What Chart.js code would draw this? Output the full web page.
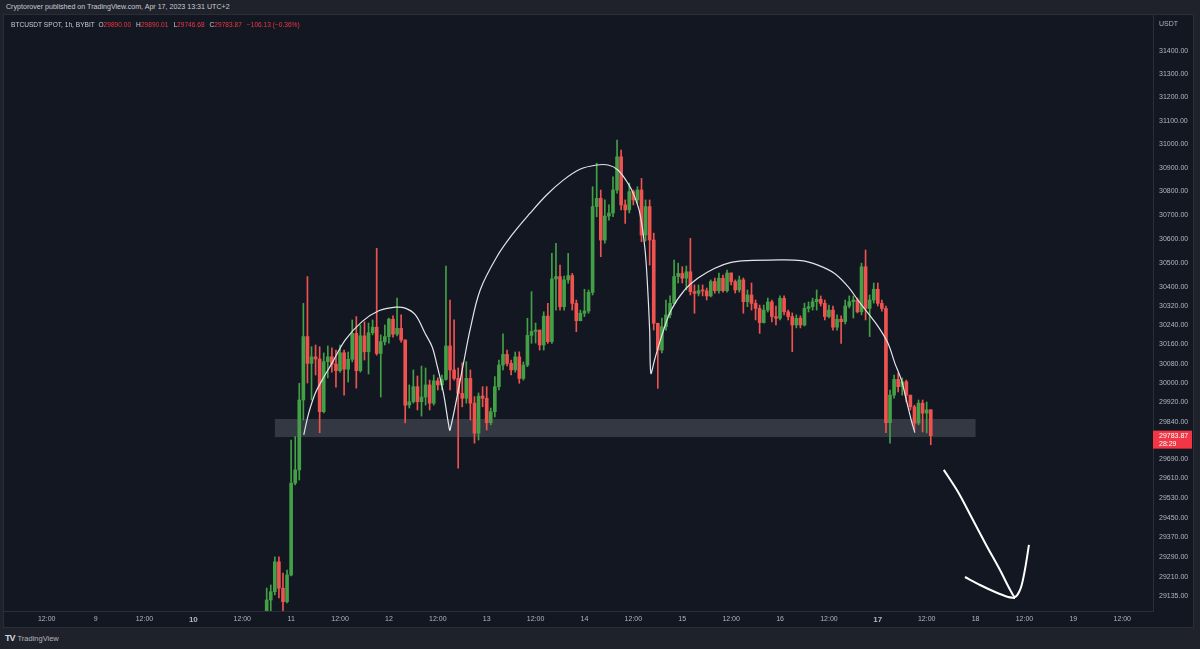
<!DOCTYPE html>
<html>
<head>
<meta charset="utf-8">
<title>BTCUSDT 1h</title>
<script src="https://cdn.jsdelivr.net/npm/chart.js@4.4.0/dist/chart.umd.min.js"></script>
<style>
  html, body { margin: 0; padding: 0; }
  body { width: 1200px; height: 649px; background: #1f222b; position: relative; overflow: hidden;
         font-family: "Liberation Sans", Arial, sans-serif; }
  #hdr { position: absolute; left: 6px; top: 3px; font-size: 7.1px; color: #c9ccd4; white-space: nowrap; }
  #panel { position: absolute; left: 4px; top: 15px; width: 1189px; height: 612px; background: #131722;
           outline: 1px solid #2a2e39; }
  #c { position: absolute; left: 0; top: 0; }
  #legend { position: absolute; left: 7px; top: 6px; font-size: 6.6px; color: #c9ccd4; white-space: nowrap; }
  #legend .v { color: #f23645; margin-right: 5px; }
  #unit { position: absolute; left: 1155px; top: 5px; font-size: 7px; color: #b2b5be; }
  #foot { position: absolute; left: 5px; top: 633px; font-size: 7.5px; color: #b2b5be; white-space: nowrap; }
  #foot b { font-size: 9px; color: #d1d4dc; margin-right: 3px; letter-spacing: -1px; }
</style>
</head>
<body>
<div id="hdr">Cryptorover published on TradingView.com, Apr 17, 2023 13:31 UTC+2</div>
<div id="panel">
  <canvas id="c" width="1189" height="612"></canvas>
  <div id="legend">BTCUSDT SPOT, 1h, BYBIT&nbsp;&nbsp;<span>O</span><span class="v">29890.00</span><span>H</span><span class="v">29890.01</span><span>L</span><span class="v">29746.68</span><span>C</span><span class="v">29783.87</span><span class="v">&minus;106.13 (&minus;0.36%)</span></div>
  <div id="unit">USDT</div>
</div>
<div id="foot"><b>TV</b>TradingView</div>

<script>
// hours counted from Apr 9 00:00, first visible candle is Apr 10 18:00
var firstHour = 42;
var firstOpen = 29050;

var closes = [
  29119, 29152, 29272, 29166, 29112, 29219, 29590, 29644, 29930, 30192,
  30081, 30108, 30099, 29882, 30088, 30108, 30078, 30051, 30125, 30057,
  30098, 30205, 30051, 30195, 30129, 30208, 30231, 30122, 30171, 30192,
  30264, 30202, 30226, 30178, 29909, 29923, 29985, 29923, 29942, 29992,
  29917, 30009, 29992, 30015, 30153, 30054, 30019, 29957, 29937, 30019,
  29917, 29794, 29946, 29937, 29837, 29882, 29985, 30074, 30118, 30081,
  30054, 30108, 30019, 30074, 30197, 30213, 30219, 30157, 30277, 30171,
  30432, 30442, 30316, 30428, 30446, 30330, 30258, 30289, 30298, 30376,
  30736, 30771, 30595, 30696, 30709, 30806, 30947, 30743, 30722, 30799,
  30764, 30806, 30616, 30736, 30595, 30247, 30136, 30233, 30282, 30330,
  30442, 30455, 30435, 30462, 30379, 30372, 30383, 30382, 30361, 30421,
  30383, 30435, 30383, 30457, 30421, 30386, 30428, 30337, 30365, 30330,
  30309, 30250, 30302, 30336, 30275, 30268, 30351, 30295, 30275, 30240,
  30268, 30240, 30309, 30316, 30337, 30347, 30330, 30275, 30302, 30231,
  30264, 30254, 30319, 30337, 30344, 30295, 30483, 30309, 30344, 30389,
  30330, 30309, 29837, 29950, 30015, 29985, 30005, 29950, 29902, 29835,
  29917, 29876, 29890, 29783.87
];

var highs = [
  29167, 29179, 29292, 29292, 29227, 29239, 29766, 29780, 29999, 30330,
  30442, 30150, 30157, 30150, 30124, 30153, 30145, 30136, 30157, 30136,
  30128, 30261, 30275, 30240, 30253, 30248, 30261, 30560, 30199, 30240,
  30269, 30278, 30352, 30282, 30178, 29992, 30054, 30029, 30070, 30062,
  30012, 30033, 30021, 30033, 30486, 30344, 30261, 30062, 30083, 30088,
  30054, 29944, 29959, 29985, 29985, 29897, 30026, 30095, 30203, 30136,
  30095, 30128, 30129, 30087, 30268, 30379, 30248, 30219, 30295, 30330,
  30539, 30581, 30490, 30444, 30539, 30455, 30344, 30302, 30389, 30386,
  30820, 30920, 30806, 30764, 30743, 30862, 31018, 30976, 30764, 30835,
  30806, 30820, 30855, 30764, 30764, 30624, 30248, 30269, 30344, 30361,
  30511, 30498, 30483, 30486, 30602, 30407, 30407, 30407, 30394, 30428,
  30436, 30457, 30448, 30469, 30457, 30428, 30444, 30436, 30386, 30415,
  30344, 30323, 30323, 30352, 30344, 30319, 30361, 30361, 30302, 30290,
  30282, 30278, 30331, 30336, 30352, 30386, 30361, 30344, 30323, 30319,
  30282, 30278, 30344, 30361, 30361, 30352, 30498, 30553, 30365, 30415,
  30415, 30344, 30319, 29971, 30033, 30041, 30021, 30012, 29938, 29909,
  29930, 29930, 29922, 29890.01
];

var lows = [
  29040, 29071, 29139, 29127, 29075, 29107, 29215, 29583, 29603, 29848,
  30000, 29930, 30033, 29796, 29877, 30021, 30045, 29983, 30045, 29950,
  30004, 30087, 29979, 30045, 30095, 30037, 30199, 30115, 29942, 30157,
  30165, 30190, 30195, 30169, 29836, 29897, 29917, 29889, 29864, 29909,
  29889, 29909, 29971, 29971, 30012, 29971, 30012, 29651, 29902, 29917,
  29848, 29753, 29766, 29902, 29807, 29828, 29861, 29971, 30054, 30070,
  30033, 30045, 29999, 30012, 30067, 30164, 30165, 30136, 30136, 30164,
  30164, 30302, 30302, 30302, 30414, 30302, 30212, 30257, 30275, 30289,
  30365, 30693, 30525, 30582, 30679, 30693, 30793, 30722, 30665, 30709,
  30743, 30750, 30588, 30591, 30490, 30219, 29978, 30124, 30219, 30269,
  30331, 30415, 30415, 30386, 30365, 30289, 30361, 30361, 30344, 30357,
  30373, 30373, 30377, 30377, 30407, 30373, 30377, 30289, 30316, 30302,
  30261, 30205, 30248, 30294, 30253, 30240, 30261, 30282, 30261, 30129,
  30228, 30228, 30236, 30294, 30302, 30302, 30319, 30261, 30269, 30219,
  30219, 30164, 30244, 30311, 30269, 30290, 30282, 30261, 30192, 30331,
  30319, 30298, 29796, 29753, 29938, 29963, 29950, 29922, 29889, 29807,
  29828, 29799, 29795, 29746.68
];

// hand drawn head & shoulders curve
var curveHours = [51.1, 52.3, 53.9, 55.6, 58.0, 61.3, 65.4, 69.5, 73.6, 76.0, 78.5, 80.9, 82.6, 83.7, 85.4, 86.6, 87.0,
  90.3, 91.9, 94.4, 98.5, 102.5, 106.6, 110.7, 114.8, 118.9, 123.0, 125.8, 128.2, 130.7, 132.3, 133.6, 134.8, 135.4, 136.0, 136.3,
  137.2, 138.9, 141.3, 144.6, 147.8, 152.0, 156.0, 160.1, 165.5, 173.2, 177.3, 181.4, 184.7, 187.1, 189.6, 192.1, 194.5, 196.2,
  197.8, 199.0, 200.2, 201.1];
var curvePrices = [29787, 29875, 29957, 30012, 30081, 30178, 30254, 30299, 30314, 30310, 30282, 30205, 30150, 30081, 29957, 29834, 29807,
  30081, 30219, 30386, 30525, 30623, 30707, 30785, 30848, 30894, 30912, 30912, 30891, 30834, 30778, 30707, 30566, 30428, 30219, 30040,
  30095, 30192, 30302, 30386, 30435, 30477, 30501, 30509, 30511, 30509, 30490, 30455, 30400, 30344, 30289, 30233, 30164, 30081,
  30012, 29930, 29848, 29796];

// arrow strokes
var arrowHours = [208.2, 211.7, 215.1, 218.6, 222.0, 224.5, 225.7, 227.1, 228.1, 229.1];
var arrowPrices = [29644, 29554, 29449, 29340, 29239, 29159, 29131, 29167, 29239, 29340];
var headHours = [213.4, 217.1, 220.8, 224.0, 225.7];
var headPrices = [29211, 29179, 29151, 29131, 29127];

// support zone
var zoneHours = [44, 216];
var zonePrices = [29778, 29852];

var tickHours = [-12, 0, 12, 24, 36, 48, 60, 72, 84, 96, 108, 120, 132, 144, 156, 168, 180, 192, 204, 216, 228, 240, 252];
var tickLabels = ['12:00', '9', '12:00', '10', '12:00', '11', '12:00', '12', '12:00', '13', '12:00', '14', '12:00',
  '15', '12:00', '16', '12:00', '17', '12:00', '18', '12:00', '19', '12:00'];
var boldLabels = ['10', '17'];
var priceTicks = [31400, 31300, 31200, 31100, 31000, 30900, 30800, 30700, 30600, 30500, 30400, 30320, 30240,
  30160, 30080, 30000, 29920, 29840, 29690, 29610, 29530, 29450, 29370, 29290, 29210, 29135];

var lastPrice = 29783.87;
var countdown = '28:29';

var UP = '#43a047', DOWN = '#ef5350';

var candles = closes.map(function(c, i) {
  var o = i === 0 ? firstOpen : closes[i - 1];
  return { t: firstHour + i, o: o, c: c,
           h: Math.max(highs[i], o, c), l: Math.min(lows[i], o, c) };
});
var colors = candles.map(function(k) { return k.c >= k.o ? UP : DOWN; });

var zonePlugin = {
  id: 'zone',
  beforeDatasetsDraw: function(chart) {
    var x = chart.scales.x, y = chart.scales.y, ctx = chart.ctx;
    var x1 = x.getPixelForValue(zoneHours[0]), x2 = x.getPixelForValue(zoneHours[1]);
    var y1 = y.getPixelForValue(zonePrices[1]), y2 = y.getPixelForValue(zonePrices[0]);
    ctx.save();
    ctx.fillStyle = 'rgba(120,123,134,0.33)';
    ctx.fillRect(x1, y1, x2 - x1, y2 - y1);
    ctx.restore();
  }
};

var tagPlugin = {
  id: 'tag',
  afterDraw: function(chart) {
    var y = chart.scales.y, ctx = chart.ctx, area = chart.chartArea;
    var py = y.getPixelForValue(lastPrice);
    ctx.save();
    ctx.fillStyle = '#f23645';
    ctx.fillRect(area.right, py - 5, 39, 18);
    ctx.fillStyle = '#ffffff';
    ctx.font = '7px "Liberation Sans", Arial, sans-serif';
    ctx.textBaseline = 'middle';
    ctx.fillText(lastPrice.toFixed(2), area.right + 6, py + 0.5);
    ctx.fillText(countdown, area.right + 6, py + 8.5);
    ctx.restore();
  }
};

var ctx = document.getElementById('c').getContext('2d');
window.btcChart = new Chart(ctx, {
  type: 'bar',
  data: {
    datasets: [{
      label: 'curve',
      type: 'line',
      data: curveHours.map(function(h, i) { return { x: h, y: curvePrices[i] }; }),
      borderColor: '#e3e5ea',
      borderWidth: 1.2,
      pointRadius: 0,
      tension: 0.35,
      order: 1
    }, {
      label: 'arrow',
      type: 'line',
      data: arrowHours.map(function(h, i) { return { x: h, y: arrowPrices[i] }; }),
      borderColor: '#ffffff',
      borderWidth: 2,
      pointRadius: 0,
      tension: 0.3,
      order: 1
    }, {
      label: 'arrowhead',
      type: 'line',
      data: headHours.map(function(h, i) { return { x: h, y: headPrices[i] }; }),
      borderColor: '#ffffff',
      borderWidth: 2,
      pointRadius: 0,
      tension: 0.3,
      order: 1
    }, {
      label: 'body',
      data: candles.map(function(k) { return { x: k.t, y: [k.o, k.c] }; }),
      backgroundColor: colors,
      barThickness: 3,
      minBarLength: 1,
      grouped: false,
      order: 2
    }, {
      label: 'wick',
      data: candles.map(function(k) { return { x: k.t, y: [k.l, k.h] }; }),
      backgroundColor: colors,
      barThickness: 1,
      grouped: false,
      order: 3
    }]
  },
  options: {
    responsive: false,
    animation: false,
    devicePixelRatio: 1,
    layout: { padding: 0, autoPadding: false },
    plugins: { legend: { display: false }, tooltip: { enabled: false } },
    scales: {
      x: {
        type: 'linear',
        offset: false,
        min: -22.48,
        max: 259.55,
        bounds: 'data',
        grid: { display: false, drawTicks: false, offset: false },
        border: { display: true, color: '#2a2e39' },
        afterBuildTicks: function(s) { s.ticks = tickHours.map(function(v) { return { value: v }; }); },
        afterFit: function(s) { s.height = 16; s.paddingLeft = 0; s.paddingRight = 0; },
        ticks: {
          color: '#b2b5be',
          padding: 4,
          maxRotation: 0,
          autoSkip: false,
          font: function(c) {
            var lbl = tickLabels[tickHours.indexOf(c.tick && c.tick.value)];
            return boldLabels.indexOf(lbl) >= 0 ? { size: 8, weight: 'bold' } : { size: 7 };
          },
          callback: function(v) { return tickLabels[tickHours.indexOf(v)]; }
        }
      },
      y: {
        type: 'logarithmic',
        position: 'right',
        min: 29074.9,
        max: 31555.7,
        bounds: 'data',
        grid: { display: false, drawTicks: false },
        border: { display: true, color: '#2a2e39' },
        afterBuildTicks: function(s) { s.ticks = priceTicks.map(function(v) { return { value: v }; }); },
        afterFit: function(s) { s.width = 40; s.paddingTop = 0; s.paddingBottom = 0; },
        ticks: {
          color: '#b2b5be',
          padding: 6,
          autoSkip: false,
          font: { size: 7 },
          callback: function(v) { return Number(v).toFixed(2); }
        }
      }
    }
  },
  plugins: [zonePlugin, tagPlugin]
});
</script>
</body>
</html>
